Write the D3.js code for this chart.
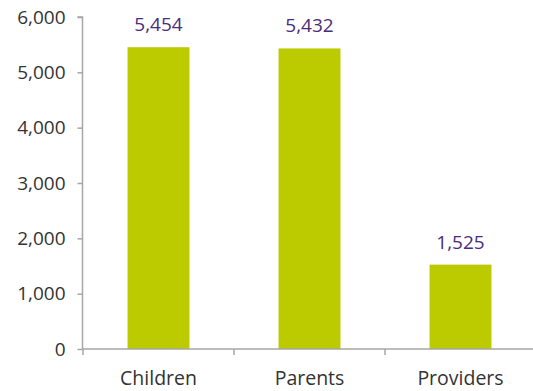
<!DOCTYPE html>
<html><head><meta charset="utf-8">
<script src="https://cdn.jsdelivr.net/npm/d3@7"></script>
<style>body{margin:0;background:#fff}svg{display:block}</style>
</head><body>
<script>
const categories = ["Children", "Parents", "Providers"];
const values = [5454, 5432, 1525];
const yTicks = [0, 1000, 2000, 3000, 4000, 5000, 6000];

const W = 533, H = 391;
const svg = d3.select("body").append("svg").attr("width", W).attr("height", H);
const x = d3.scaleBand().domain(categories).range([83, 536]).padding(0);
const y = d3.scaleLinear().domain([0, 6000]).range([349, 17]);
const fmt = d3.format(",");
const font = "'Open Sans', sans-serif";
const axisColor = "#a6a6a6";

// bars
const bw = x.bandwidth() * 0.41;
svg.selectAll("rect.bar").data(values).enter().append("rect")
  .attr("x", (d, i) => x(categories[i]) + x.bandwidth() / 2 - bw / 2)
  .attr("y", d => y(d))
  .attr("width", bw)
  .attr("height", d => y(0) - y(d))
  .attr("fill", "#bccb00");

// value labels
svg.selectAll("text.val").data(values).enter().append("text")
  .attr("x", (d, i) => x(categories[i]) + x.bandwidth() / 2)
  .attr("y", d => y(d) - 16)
  .attr("text-anchor", "middle")
  .attr("font-family", font).attr("font-size", 19)
  .attr("fill", "#4a2c7c")
  .text(d => fmt(d));

// y axis
const ya = svg.append("g").attr("transform", "translate(82.5,0)")
  .call(d3.axisLeft(y).tickValues(yTicks).tickFormat(fmt).tickSize(5).tickPadding(12));
ya.select(".domain").attr("stroke", axisColor).attr("stroke-width", 1.5).attr("d", `M-5,${y(6000)}H0V${y(0)}`);
ya.selectAll(".tick line").attr("stroke", axisColor).attr("stroke-width", 1.5);
ya.selectAll(".tick text").attr("font-family", font).attr("font-size", 19).attr("fill", "#333");

// x axis
const xa = svg.append("g").attr("transform", `translate(0,${y(0)})`)
  .call(d3.axisBottom(x).tickSize(0).tickPadding(22));
xa.select(".domain").attr("stroke", axisColor).attr("stroke-width", 1.5).attr("d", `M83,0H${W}`);
xa.selectAll(".tick text").attr("font-family", font).attr("font-size", 19.5).attr("fill", "#333");
// boundary ticks
const bounds = categories.map(c => x(c));
svg.selectAll("line.bt").data(bounds).enter().append("line")
  .attr("x1", d => d).attr("x2", d => d)
  .attr("y1", y(0)).attr("y2", y(0) + 6)
  .attr("stroke", axisColor).attr("stroke-width", 1.5);
</script>
</body></html>
